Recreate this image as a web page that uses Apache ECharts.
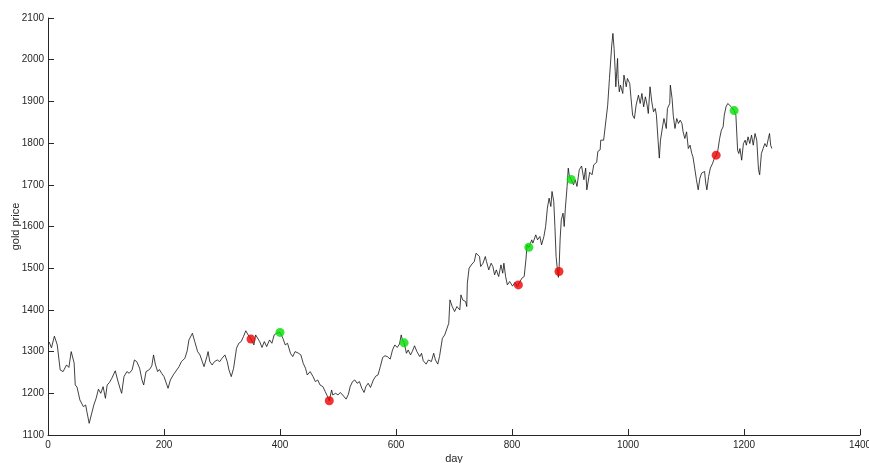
<!DOCTYPE html>
<html>
<head>
<meta charset="utf-8">
<script src="https://cdn.jsdelivr.net/npm/echarts@6/dist/echarts.min.js"></script>
<style>
html,body{margin:0;padding:0;background:#fff;}
#chart{width:869px;height:463px;}
</style>
</head>
<body>
<div id="chart"></div>
<script>
// Gold price trace (day, price)
const lineDays = [
2,6,11,16,21,26,32,36,40,45,47,50,55,61,65,67,71,74,79,83,87,91,95,99,102,106,110,116,120,125,127,131,136,140,145,149,153,158,162,165,169,175,179,182,185,189,192,196,200,205,207,211,216,222,226,230,236,240,243,249,
253,258,262,266,269,274,276,279,283,287,292,296,300,305,309,312,316,320,325,329,333,337,341,345,350,355,358,361,365,369,373,377,382,386,390,394,400,405,409,413,418,422,426,432,436,440,444,447,452,457,461,465,469,474,478,482,485,489,
491,496,500,504,508,514,518,521,525,529,533,537,541,545,548,552,556,561,565,569,573,577,581,585,590,594,598,602,606,609,611,614,618,621,625,628,632,636,641,644,647,652,656,661,665,668,672,675,680,684,687,691,693,697,701,705,710,712,715,720,722,723,726,731,
735,738,741,744,746,750,754,756,760,764,767,770,773,777,781,784,786,789,792,796,801,805,809,811,817,821,824,826,829,834,836,841,844,848,851,855,858,861,864,867,869,872,874,876,878,880,881,883,885,888,890,892,895,897,899,902,906,909,912,916,920,924,927,929,934,938,
941,946,948,952,953,958,961,965,968,970,972,974,976,978,979,982,983,985,987,991,993,997,999,1003,1005,1008,1011,1014,1018,1021,1024,1027,1030,1033,1035,1038,1041,1044,1047,1049,1052,1054,1056,1060,1062,1066,1068,1072,1073,1076,1078,1081,1084,1087,1090,1093,1095,1098,1101,1104,1107,1110,1112,1115,1118,1121,1124,1127,1130,1132,1134,1136,1139,1142,1146,1149,
1152,1155,1158,1161,1164,1166,1169,1172,1175,1178,1183,1186,1189,1191,1193,1196,1199,1202,1204,1207,1210,1213,1216,1219,1222,1225,1227,1230,1233,1236,1239,1242,1244,1246,1248
];
const linePrices = [
1323,1309,1337,1316,1256,1252,1268,1262,1300,1273,1220,1215,1184,1168,1172,1156,1128,1130,1172,1188,1210,1200,1216,1188,1220,1226,1236,1254,1232,1208,1200,1240,1252,1248,1256,1280,1276,1260,1232,1220,1252,1257,1266,1292,1270,1252,1257,1248,1240,1220,1212,1232,1244,1256,1264,1276,1284,1302,1328,1344,
1324,1300,1292,1276,1264,1288,1300,1276,1268,1276,1280,1276,1284,1292,1276,1256,1240,1260,1308,1320,1324,1336,1350,1340,1330,1316,1340,1344,1324,1310,1324,1312,1328,1320,1340,1344,1346,1332,1316,1320,1296,1288,1300,1296,1292,1272,1260,1244,1252,1240,1228,1232,1220,1216,1204,1192,1182,1208,
1196,1200,1196,1202,1196,1186,1198,1216,1228,1232,1224,1228,1212,1202,1216,1224,1214,1232,1241,1244,1264,1286,1290,1288,1282,1304,1316,1310,1318,1340,1328,1321,1296,1304,1292,1300,1314,1300,1288,1296,1278,1270,1280,1276,1296,1280,1270,1288,1332,1340,1344,1368,1424,1408,1396,1408,1400,1436,1424,1420,1408,1464,1500,1510,
1516,1536,1540,1528,1504,1512,1528,1516,1496,1512,1504,1484,1496,1480,1508,1488,1512,1480,1460,1468,1457,1466,1456,1460,1476,1480,1520,1556,1550,1568,1560,1580,1568,1576,1556,1576,1600,1644,1668,1648,1684,1660,1600,1528,1500,1478,1492,1570,1616,1632,1600,1644,1696,1740,1720,1713,1700,1712,1696,1736,1745,1712,1740,1688,1730,1724,
1748,1754,1780,1784,1807,1807,1843,1891,1955,1959,2035,2063,2027,1971,1935,2003,1955,1923,1939,1919,1963,1935,1955,1943,1911,1867,1859,1891,1915,1895,1919,1887,1911,1891,1871,1935,1899,1875,1883,1867,1803,1764,1807,1843,1859,1835,1883,1895,1939,1907,1867,1835,1859,1847,1855,1847,1827,1811,1827,1787,1795,1775,1767,1740,1712,1688,1716,1728,1728,1732,1704,1688,1720,1740,1752,1764,
1771,1783,1811,1831,1839,1867,1887,1895,1899,1887,1878,1867,1783,1775,1787,1759,1799,1807,1795,1815,1799,1819,1795,1823,1807,1736,1724,1775,1787,1799,1791,1811,1823,1795,1787
];
// Red markers
const redDays = [350, 485, 811, 881, 1152];
const redPrices = [1330, 1182, 1460, 1492, 1771];
// Green markers
const greenDays = [400, 614, 829, 902, 1183];
const greenPrices = [1346, 1321, 1550, 1713, 1878];
// Axis ticks
const xTicks = [0, 200, 400, 600, 800, 1000, 1200, 1400];
const yTicks = [1100, 1200, 1300, 1400, 1500, 1600, 1700, 1800, 1900, 2000, 2100];

const pair = (xs, ys) => xs.map((x, i) => [x, ys[i]]);
const axisColor = '#262626';
const font = 'Liberation Sans, Arial, Helvetica, sans-serif';

const chart = echarts.init(document.getElementById('chart'), null, {renderer: 'canvas'});
chart.setOption({
  animation: false,
  backgroundColor: '#ffffff',
  grid: {left: 48, right: 9, top: 18, bottom: 28, containLabel: false, outerBoundsMode: 'none'},
  xAxis: {
    type: 'value',
    min: xTicks[0], max: xTicks[xTicks.length - 1], interval: 200,
    name: 'day', nameLocation: 'middle', nameGap: 18, nameMoveOverlap: false,
    nameTextStyle: {color: axisColor, fontSize: 11, fontFamily: font},
    axisLine: {lineStyle: {color: axisColor, width: 1}},
    axisTick: {inside: true, length: 6, lineStyle: {color: axisColor}},
    axisLabel: {color: axisColor, fontSize: 10, fontFamily: font, margin: 5, formatter: v => String(v)},
    splitLine: {show: false}
  },
  yAxis: {
    type: 'value',
    min: yTicks[0], max: yTicks[yTicks.length - 1], interval: 100,
    name: 'gold price', nameLocation: 'middle', nameGap: 27, nameMoveOverlap: false,
    nameTextStyle: {color: axisColor, fontSize: 11, fontFamily: font},
    axisLine: {show: true, lineStyle: {color: axisColor, width: 1}},
    axisTick: {show: true, inside: true, length: 6, lineStyle: {color: axisColor}},
    axisLabel: {color: axisColor, fontSize: 10, fontFamily: font, margin: 4, formatter: v => String(v)},
    splitLine: {show: false}
  },
  series: [
    {
      type: 'line', data: pair(lineDays, linePrices),
      showSymbol: false, symbol: 'none',
      lineStyle: {color: '#111111', width: 0.8},
      z: 2
    },
    {
      type: 'scatter', data: pair(redDays, redPrices),
      symbol: 'circle', symbolSize: 9,
      itemStyle: {color: '#ee0000'}, z: 3
    },
    {
      type: 'scatter', data: pair(greenDays, greenPrices),
      symbol: 'circle', symbolSize: 9,
      itemStyle: {color: '#00e000'}, z: 3
    }
  ]
});
</script>
</body>
</html>
